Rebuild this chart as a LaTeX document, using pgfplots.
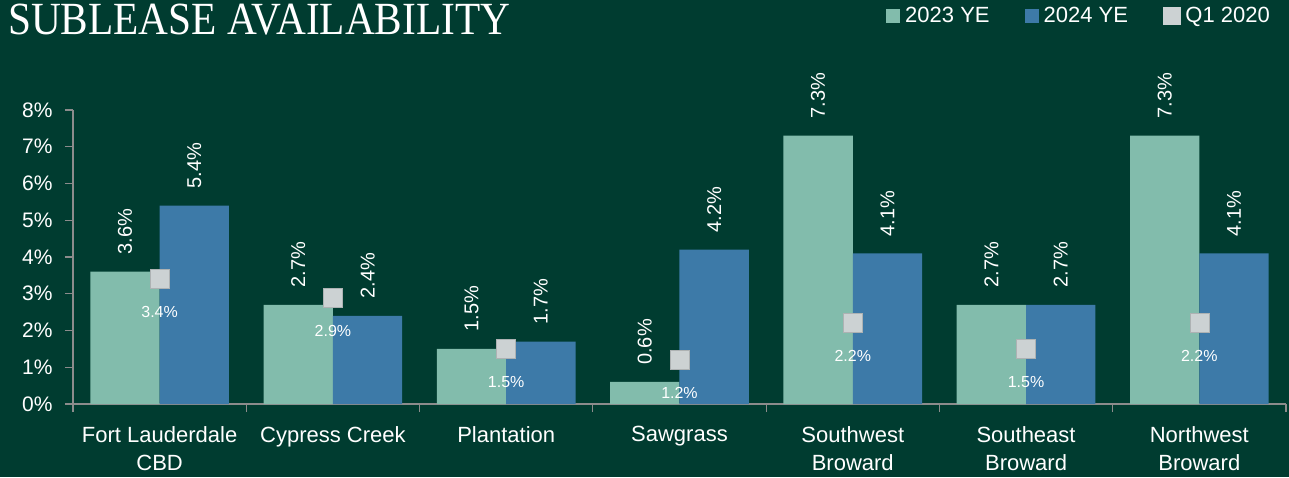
\documentclass[border=0pt]{standalone}
\usepackage{pgfplots}
\pgfplotsset{compat=1.18}
\usepackage{fontspec}
\setmainfont{Liberation Sans}
\newfontfamily\titlefont{Liberation Serif}
\definecolor{bg}{HTML}{003C30}
\definecolor{c23}{HTML}{82BCAC}
\definecolor{c24}{HTML}{3D7AA8}
\definecolor{cq1}{HTML}{CCD2D3}
\definecolor{axisgray}{HTML}{8C8C8C}
\begin{document}
\begin{tikzpicture}[x=1pt,y=1pt]
\fill[bg] (0,0) rectangle (1289,477);
\useasboundingbox (0,0) rectangle (1289,477);
\node[anchor=north west, inner sep=0pt, white] at (8,473.5) {\resizebox{502pt}{30.5pt}{\titlefont SUBLEASE AVAILABILITY}};
\begin{axis}[
  at={(73pt,73pt)}, anchor=south west,
  scale only axis, width=1213pt, height=294pt,
  xmin=-0.5, xmax=6.5, ymin=0, ymax=8,
  clip=false,
  axis x line*=bottom, axis y line*=left,
  axis line style={draw=axisgray, line width=1.5pt},
  tick style={draw=axisgray, line width=1.2pt},
  tick align=outside, major tick length=8pt,
  /pgf/number format/assume math mode=true,
  ytick={0,1,...,8},
  yticklabel={\pgfmathprintnumber{\tick}\%},
  yticklabel style={font=\fontsize{21}{21}\selectfont, text=white, xshift=-9pt},
  xtick={-0.5,0.5,...,6.5},
  xticklabels={},
  extra x ticks={0,1,2,3,4,5,6},
  extra x tick labels={{Fort Lauderdale\\CBD},{Cypress Creek},{Plantation},{Sawgrass},{Southwest\\Broward},{Southeast\\Broward},{Northwest\\Broward}},
  extra x tick style={major tick length=0pt},
  xticklabel style={font=\fontsize{22}{28}\selectfont, text=white, align=center, yshift=-19pt},
  legend columns=3,
  legend style={at={(axis description cs:0.991,1.32)}, anchor=east, draw=none, fill=none,
    text=white, font=\fontsize{22}{22}\selectfont,
    /tikz/every odd column/.append style={column sep=3pt},
    /tikz/every even column/.append style={column sep=33pt}},
]
\addplot[ybar, bar width=0.4, bar shift=0, fill=c23, draw=none,
  legend image code/.code={\fill[c23] (0pt,-7pt) rectangle (14pt,7pt);},
  nodes near coords={\pgfmathprintnumber[fixed,fixed zerofill,precision=1]{\pgfplotspointmeta}\%},
  every node near coord/.append style={rotate=90, anchor=west, inner xsep=17pt, text=white, font=\fontsize{20}{20}\selectfont}]
  coordinates {(-0.2,3.6) (0.8,2.7) (1.8,1.5) (2.8,0.6) (3.8,7.3) (4.8,2.7) (5.8,7.3)};
\addlegendentry{2023 YE}
\addplot[ybar, bar width=0.4, bar shift=0, fill=c24, draw=none,
  legend image code/.code={\fill[c24] (0pt,-7pt) rectangle (14pt,7pt);},
  nodes near coords={\pgfmathprintnumber[fixed,fixed zerofill,precision=1]{\pgfplotspointmeta}\%},
  every node near coord/.append style={rotate=90, anchor=west, inner xsep=17pt, text=white, font=\fontsize{20}{20}\selectfont}]
  coordinates {(0.2,5.4) (1.2,2.4) (2.2,1.7) (3.2,4.2) (4.2,4.1) (5.2,2.7) (6.2,4.1)};
\addlegendentry{2024 YE}
\addplot[only marks, mark=square*, mark size=9.5pt, mark options={fill=cq1, draw=cq1!85!black, line width=0.6pt},
  legend image code/.code={\fill[cq1] (0pt,-8.5pt) rectangle (17pt,8.5pt);},
  nodes near coords={\pgfmathprintnumber[fixed,fixed zerofill,precision=1]{\pgfplotspointmeta}\%},
  every node near coord/.append style={anchor=north, yshift=-24pt, text=white, font=\fontsize{16}{16}\selectfont}]
  coordinates {(0,3.4) (1,2.9) (2,1.5) (3,1.2) (4,2.2) (5,1.5) (6,2.2)};
\addlegendentry{Q1 2020}
\end{axis}
\end{tikzpicture}
\end{document}
